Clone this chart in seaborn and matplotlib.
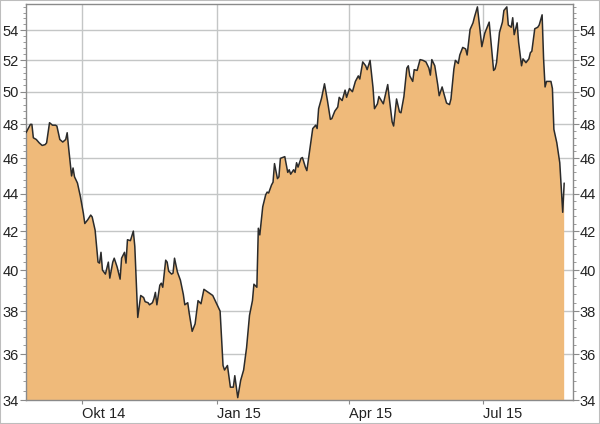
import numpy as np
import pandas as pd
import matplotlib
matplotlib.use("Agg")
import matplotlib.pyplot as plt
import matplotlib.ticker as mticker
from matplotlib.patches import Rectangle
import seaborn as sns

# Kursverlauf (Tage seit 24.08.2014, Schlusskurs)
START = "2014-08-24"
DAYS = [0, 3, 4, 5, 7, 9, 11, 13, 14, 16, 18, 20, 21, 23, 25, 27, 28, 29, 31, 32,
        33, 35, 37, 39, 40, 42, 44, 45, 47, 49, 50, 51, 52, 54, 56, 57, 59, 60, 62, 64,
        65, 67, 68, 69, 71, 73, 74, 76, 78, 80, 81, 83, 84, 86, 87, 88, 89, 91, 92, 93,
        95, 96, 97, 99, 100, 101, 103, 105, 107, 108, 110, 111, 113, 115, 117, 119, 121, 124, 127, 130,
        132, 134, 135, 137, 139, 141, 142, 144, 146, 148, 150, 152, 154, 155, 157, 158, 159, 161, 163, 164,
        165, 167, 168, 169, 171, 172, 173, 176, 178, 179, 180, 182, 183, 184, 185, 187, 188, 190, 191, 193,
        195, 197, 198, 199, 201, 203, 205, 207, 208, 210, 212, 213, 215, 217, 218, 220, 222, 224, 226, 227,
        229, 231, 232, 234, 236, 237, 239, 240, 243, 246, 247, 249, 250, 252, 254, 255, 257, 259, 260, 261,
        263, 264, 266, 268, 270, 272, 274, 275, 276, 278, 280, 281, 283, 284, 286, 288, 289, 291, 292, 294,
        295, 297, 299, 300, 302, 304, 305, 307, 309, 310, 312, 314, 315, 316, 318, 319, 320, 322, 324, 325,
        327, 328, 330, 331, 332, 334, 335, 337, 338, 340, 342, 343, 344, 346, 348, 349, 351, 352, 353, 354,
        357, 358, 359, 361, 363, 365, 366]
KURS = [47.5, 48.0, 48.0, 47.2, 47.1, 46.9, 46.75, 46.8, 46.9, 48.1, 47.95, 47.95, 47.9, 47.1, 46.95, 47.1, 47.5, 46.6, 45.0, 45.45,
        44.95, 44.6, 43.85, 42.95, 42.4, 42.6, 42.85, 42.75, 42.05, 40.4, 40.35, 40.9, 40.0, 39.8, 40.4, 39.6, 40.4, 40.6, 40.15, 39.55,
        40.6, 40.9, 40.35, 41.55, 41.5, 42.0, 41.2, 37.7, 38.75, 38.65, 38.45, 38.4, 38.3, 38.4, 38.6, 38.9, 38.3, 39.25, 39.35, 39.15,
        40.5, 40.4, 39.95, 39.8, 39.85, 40.6, 39.9, 39.5, 38.8, 38.3, 38.4, 37.9, 37.05, 37.4, 38.5, 38.35, 39.05, 38.9, 38.75, 38.3,
        38.0, 35.5, 35.3, 35.5, 34.55, 34.55, 35.05, 34.1, 34.85, 35.3, 36.3, 37.8, 38.5, 39.3, 39.15, 42.15, 41.8, 43.3, 43.95, 44.1,
        44.05, 44.5, 44.65, 45.7, 44.85, 44.95, 46.0, 46.1, 45.2, 45.35, 45.1, 45.35, 45.2, 45.75, 45.5, 46.0, 46.05, 45.5, 45.3, 46.5,
        47.75, 47.95, 47.75, 48.95, 49.6, 50.5, 49.45, 48.3, 48.35, 48.8, 49.05, 49.65, 49.45, 50.1, 49.65, 50.2, 50.0, 50.65, 51.0, 50.8,
        51.9, 51.65, 51.4, 52.0, 50.25, 48.95, 49.25, 49.7, 49.25, 50.45, 49.65, 48.15, 47.9, 49.55, 48.75, 48.7, 49.7, 51.5, 51.65, 51.0,
        50.65, 51.4, 51.35, 52.05, 52.0, 51.9, 51.5, 51.05, 52.05, 51.65, 50.45, 49.75, 50.3, 49.95, 49.3, 49.2, 49.55, 51.45, 52.0, 51.8,
        52.35, 52.85, 52.75, 52.35, 54.05, 54.5, 54.9, 55.6, 53.8, 52.9, 53.8, 54.3, 54.55, 53.45, 51.35, 51.45, 51.85, 53.85, 54.55, 55.35,
        55.6, 54.35, 54.2, 54.85, 53.7, 54.5, 53.2, 51.65, 52.1, 51.85, 52.1, 52.5, 52.6, 54.1, 54.2, 54.35, 55.05, 52.1, 50.3, 50.65,
        50.65, 50.2, 47.7, 46.9, 45.75, 43.0, 44.6]

X_TICKS = ["2014-10-01", "2015-01-01", "2015-04-01", "2015-07-01"]
X_LABELS = ["Okt 14", "Jan 15", "Apr 15", "Jul 15"]
Y_TICKS = [34, 36, 38, 40, 42, 44, 46, 48, 50, 52, 54]

FILL = "#EFBA7A"
LINE = "#2b2b2b"
GRID = "#c4c6c6"
SPINE = "#8a8a8a"

df = pd.DataFrame({
    "Datum": pd.Timestamp(START) + pd.to_timedelta(DAYS, unit="D"),
    "Kurs": KURS,
})

sns.set_style("white")
plt.rcParams["font.family"] = ["Liberation Sans", "DejaVu Sans"]

fig = plt.figure(figsize=(6.0, 4.24), dpi=100)
ax = fig.add_axes([26 / 600, 24 / 424, 547 / 600, 396 / 424])

ax.set_yscale("log")
ax.fill_between(df["Datum"], df["Kurs"], 30, color=FILL, linewidth=0, zorder=2)
sns.lineplot(data=df, x="Datum", y="Kurs", color=LINE, linewidth=1.1, ax=ax, zorder=3)

ax.set_xlim(pd.Timestamp(START), pd.Timestamp(START) + pd.Timedelta(days=372))
ax.set_ylim(34, 55.8)

ax.yaxis.set_major_locator(mticker.FixedLocator(Y_TICKS))
ax.yaxis.set_major_formatter(mticker.FixedFormatter([str(t) for t in Y_TICKS]))
ax.yaxis.set_minor_locator(mticker.FixedLocator(np.arange(34, 55.8, 0.4)))
ax.yaxis.set_minor_formatter(mticker.NullFormatter())

ax.set_xticks(pd.to_datetime(X_TICKS))
ax.set_xticklabels(X_LABELS, ha="left")

ax.grid(True, which="major", color=GRID, linewidth=1.0, zorder=0)
ax.set_axisbelow(True)

ax.tick_params(axis="y", which="major", left=True, right=True, labelleft=True, labelright=True,
               direction="out", length=4, width=0.8, color=SPINE, labelsize=10.5,
               labelcolor="#222222", pad=1)
ax.tick_params(axis="y", which="minor", left=True, right=True, direction="out",
               length=2, width=0.6, color=SPINE)
ax.tick_params(axis="x", which="major", bottom=True, direction="out", length=3,
               width=0.8, color=SPINE, labelsize=10.5, labelcolor="#222222", pad=2)

for s in ax.spines.values():
    s.set_color(SPINE)
    s.set_linewidth(1.0)

ax.set_xlabel("")
ax.set_ylabel("")

fig.patches.append(Rectangle((0, 0), 1, 1, transform=fig.transFigure, fill=False,
                             edgecolor="#bdbdbd", linewidth=1.5))

fig.savefig("out.png", dpi=100)
